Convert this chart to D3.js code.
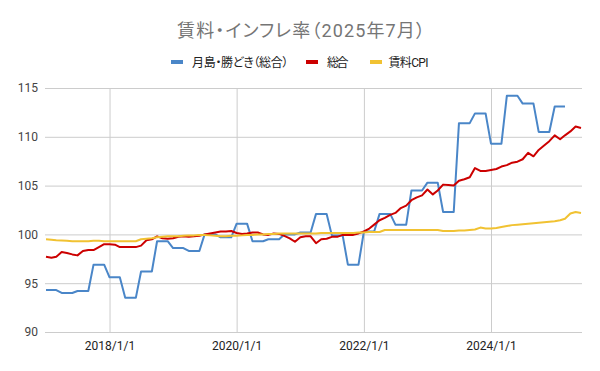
<!DOCTYPE html>
<html><head><meta charset="utf-8">
<script src="https://cdn.jsdelivr.net/npm/d3@7"></script>
<style>
html,body{margin:0;padding:0;background:#fff;}
svg{display:block;font-family:Roboto,"Noto Sans CJK JP",sans-serif;}
svg text{font-feature-settings:"palt";}
</style></head>
<body>
<svg id="c" width="600" height="371"></svg>
<script>
const title = "賃料・インフレ率（2025年7月）";
const seriesNames = ["月島・勝どき（総合）", "総合", "賃料CPI"];
const seriesColors = ["#4a86c8", "#cc0000", "#f1c232"];
const startYear = 2017, startMonth = 0;
const yTicks = [90, 95, 100, 105, 110, 115];
const xTickDates = ["2018-01-01", "2020-01-01", "2022-01-01", "2024-01-01"];
const xTickLabels = ["2018/1/1", "2020/1/1", "2022/1/1", "2024/1/1"];

// 月島・勝どき（総合）: quarterly values 2017Q1..2025Q1 (each held for 3 months)
const tsukishimaQuarterly = [
  94.3, 94.0, 94.2, 96.9,
  95.6, 93.5, 96.2, 99.3,
  98.6, 98.3, 100.0, 99.7,
  101.1, 99.3, 99.5, 100.0,
  100.2, 102.1, 99.9, 96.9,
  100.3, 102.1, 101.0, 104.5,
  105.3, 102.3, 111.4, 112.4,
  109.3, 114.2, 113.4, 110.5,
  113.1
];

// 総合: monthly 2017/1..2025/6
const sogo = [
  97.7, 97.6, 97.7, 98.2, 98.1, 97.95, 97.85, 98.3, 98.4, 98.4, 98.7, 99.0,
  99.0, 98.95, 98.7, 98.7, 98.7, 98.7, 98.85, 99.4, 99.5, 99.8, 99.6, 99.55,
  99.6, 99.75, 99.8, 99.75, 99.8, 99.85, 100.0, 100.1, 100.2, 100.3, 100.3, 100.35,
  100.15, 100.05, 100.1, 100.2, 100.2, 100.0, 99.95, 100.1, 100.05, 99.85, 99.6, 99.25,
  99.7, 99.8, 99.8, 99.1, 99.5, 99.55, 99.75, 99.75, 99.95, 99.93, 99.95, 100.1,
  100.3, 100.6, 101.0, 101.45, 101.7, 102.0, 102.2, 102.7, 102.95, 103.5, 103.8, 104.0,
  104.6, 104.1, 104.5, 105.1, 105.05, 105.0, 105.5, 105.65, 105.85, 106.8, 106.5, 106.5,
  106.6, 106.7, 106.95, 107.1, 107.35, 107.45, 107.7, 108.35, 108.0, 108.65, 109.1, 109.55,
  110.15, 109.75, 110.15, 110.55, 111.05, 110.9
];

// 賃料CPI: monthly 2017/1..2025/6
const rentCpi = [
  99.5, 99.45, 99.4, 99.38, 99.35, 99.3, 99.3, 99.3, 99.3, 99.35, 99.35, 99.3,
  99.3, 99.3, 99.3, 99.3, 99.3, 99.3, 99.5, 99.55, 99.6, 99.7, 99.75, 99.8,
  99.8, 99.8, 99.85, 99.9, 99.9, 99.95, 99.95, 99.9, 99.85, 99.8, 99.8, 99.85,
  99.85, 99.9, 99.95, 99.95, 100.0, 100.0, 100.05, 100.05, 100.1, 100.1, 100.1, 100.1,
  100.1, 100.1, 100.1, 100.1, 100.15, 100.15, 100.15, 100.15, 100.15, 100.15, 100.15, 100.2,
  100.2, 100.25, 100.25, 100.25, 100.45, 100.45, 100.45, 100.45, 100.45, 100.45, 100.45, 100.45,
  100.45, 100.45, 100.45, 100.35, 100.35, 100.35, 100.4, 100.4, 100.45, 100.5, 100.7, 100.6,
  100.6, 100.65, 100.75, 100.85, 100.95, 101.0, 101.05, 101.1, 101.15, 101.2, 101.25, 101.3,
  101.35, 101.45, 101.6, 102.15, 102.3, 102.2
];

const monthDate = i => new Date(startYear, startMonth + i, 1);
const tsukishima = [];
tsukishimaQuarterly.forEach(v => { tsukishima.push(v, v, v); });
const allSeries = [tsukishima, sogo, rentCpi];

const svg = d3.select("#c");
const L = 45, R = 582, T = 88, B = 332;

const x = d3.scaleTime()
  .domain([monthDate(0), monthDate(sogo.length - 1)])
  .range([46, 581]);
const y = d3.scaleLinear().domain([90, 115]).range([B, T]);

// title
svg.append("text").attr("x", 177).attr("y", 37)
  .attr("font-size", 18).attr("fill", "#757575")
  .attr("textLength", 248).attr("lengthAdjust", "spacing").text(title);

// legend
const legendX = [171, 306, 370];
const legendTextX = [192, 327, 388.5];
const legendTextW = [96.5, 21.5, 40];
seriesNames.forEach((n, i) => {
  svg.append("rect").attr("x", legendX[i]).attr("y", 60).attr("width", 12).attr("height", 4)
    .attr("fill", seriesColors[i]);
  svg.append("text").attr("x", legendTextX[i]).attr("y", 66.5).attr("font-size", 12)
    .attr("fill", "#222").attr("textLength", legendTextW[i]).attr("lengthAdjust", "spacing")
    .text(n);
});

// horizontal grid + y labels
const yAxis = d3.axisLeft(y).tickValues(yTicks).tickSize(-(R - L)).tickFormat(d3.format("d"));
const gy = svg.append("g").attr("transform", `translate(${L},0)`).call(yAxis);
gy.select(".domain").remove();
gy.selectAll(".tick line").attr("stroke", "#cccccc");
gy.selectAll(".tick text").attr("x", -7).attr("font-size", 12).attr("fill", "#444")
  .attr("font-family", "Roboto,sans-serif");

// vertical grid + x labels
const xDates = xTickDates.map(s => { const p = s.split("-"); return new Date(+p[0], +p[1] - 1, +p[2]); });
const xAxis = d3.axisBottom(x).tickValues(xDates).tickSize(-(B - T))
  .tickFormat((d, i) => xTickLabels[i]);
const gx = svg.append("g").attr("transform", `translate(0,${B})`).call(xAxis);
gx.select(".domain").remove();
gx.selectAll(".tick line").attr("stroke", "#cccccc");
gx.selectAll(".tick text").attr("y", 9).attr("font-size", 12).attr("fill", "#222")
  .attr("font-family", "Roboto,sans-serif");

// lines
const line = d3.line().x((d, i) => x(monthDate(i))).y(d => y(d));
allSeries.forEach((s, i) => {
  svg.append("path").datum(s).attr("d", line).attr("fill", "none")
    .attr("stroke", seriesColors[i]).attr("stroke-width", 2).attr("stroke-linejoin", "round");
});
</script>
</body></html>
